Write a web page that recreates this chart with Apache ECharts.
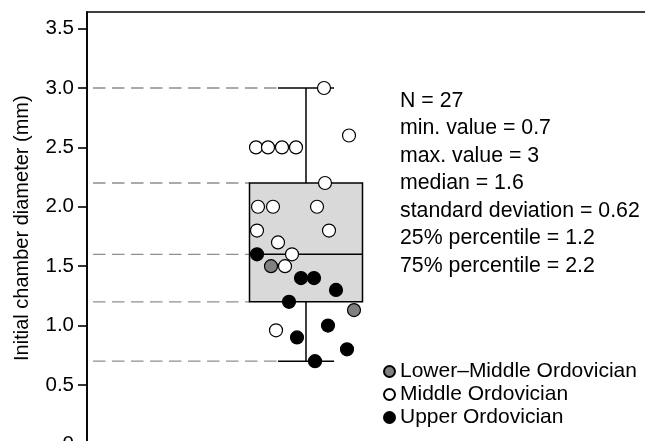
<!DOCTYPE html>
<html>
<head>
<meta charset="utf-8">
<script src="https://cdn.jsdelivr.net/npm/echarts@6/dist/echarts.min.js"></script>
<style>
html,body{margin:0;padding:0;background:#fff}
#chart{width:645px;height:441px}
</style>
</head>
<body>
<div id="chart"></div>
<script>
// y axis ticks
var yTicks = [0, 0.5, 1.0, 1.5, 2.0, 2.5, 3.0, 3.5]
// box: min, q1, median, q3, max
var boxStats = [0.7, 1.2, 1.6, 2.2, 3.0]
// points: [jitter, diameter]
var lowerMiddle = [[-0.35, 1.5], [0.48, 1.13]]
var middle = [
    [0.18, 3.0], [0.43, 2.6],
    [-0.50, 2.5], [-0.38, 2.5], [-0.24, 2.5], [-0.10, 2.5],
    [0.19, 2.2],
    [-0.48, 2.0], [-0.33, 2.0], [0.11, 2.0],
    [-0.49, 1.8], [0.23, 1.8],
    [-0.28, 1.7], [-0.14, 1.6], [-0.21, 1.5], [-0.30, 0.96]
]
var upper = [
    [-0.49, 1.6], [-0.05, 1.4], [0.08, 1.4], [0.30, 1.3], [-0.17, 1.2],
    [0.22, 1.0], [-0.09, 0.9], [0.41, 0.8], [0.09, 0.7]
]
var statLines = [
    'N = 27',
    'min. value = 0.7',
    'max. value = 3',
    'median = 1.6',
    'standard deviation = 0.62',
    '25% percentile = 1.2',
    '75% percentile = 2.2'
]
var seriesNames = ['Lower–Middle Ordovician', 'Middle Ordovician', 'Upper Ordovician']

var font = '"Liberation Sans", Arial, sans-serif'
var boxHalf = 0.565, capHalf = 0.28, dashStart = -2.13

var myChart = echarts.init(document.getElementById('chart'))

function dots(name, data, fill) {
    return {
        name: name,
        type: 'scatter',
        data: data,
        symbolSize: 13,
        z: 5,
        itemStyle: {color: fill, borderColor: '#000', borderWidth: 1.2, opacity: 1},
        emphasis: {disabled: true}
    }
}

var option = {
    animation: false,
    textStyle: {fontFamily: font},
    title: {
        text: statLines.join('\n'),
        left: 400,
        top: 87,
        padding: 0,
        textStyle: {fontSize: 21.3, fontWeight: 'normal', lineHeight: 27.5, color: '#000', fontFamily: font}
    },
    legend: {
        orient: 'vertical',
        left: 383,
        top: 361,
        padding: 0,
        itemGap: 2,
        itemWidth: 11,
        itemHeight: 11,
        icon: 'circle',
        data: seriesNames,
        textStyle: {fontSize: 21, color: '#000', fontFamily: font}
    },
    grid: {
        left: 87,
        top: 12,
        width: 700,
        height: 432.3,
        outerBoundsMode: 'none',
        containLabel: false,
        show: true,
        borderColor: '#000',
        borderWidth: 1.6
    },
    xAxis: {
        type: 'value',
        min: -2.19,
        max: 4.81,
        show: false
    },
    yAxis: {
        type: 'value',
        min: 0,
        max: 3.64,
        name: 'Initial chamber diameter (mm)',
        nameLocation: 'middle',
        nameGap: 55,
        nameTextStyle: {fontSize: 20, color: '#000', fontFamily: font},
        axisLine: {show: true, onZero: false, lineStyle: {color: '#000', width: 1.6}},
        axisTick: {show: true, length: 9, customValues: yTicks, lineStyle: {color: '#000', width: 1.6}},
        axisLabel: {
            customValues: yTicks,
            margin: 13,
            fontSize: 20.5,
            color: '#000',
            fontFamily: font,
            formatter: function (v) { return v === 0 ? '0' : v.toFixed(1) }
        },
        splitLine: {show: false}
    },
    series: [
        {
            type: 'custom',
            silent: true,
            z: 1,
            data: [[0].concat(boxStats)],
            encode: {x: 0, y: [1, 2, 3, 4, 5]},
            renderItem: function (params, api) {
                var x = api.value(0)
                var lo = api.value(1), q1 = api.value(2), med = api.value(3), q3 = api.value(4), hi = api.value(5)
                var c = function (dx, v) { return api.coord([x + dx, v]) }
                var dash = {stroke: '#8f8f8f', lineWidth: 1.3, lineDash: [12.5, 6.5], fill: null}
                var solid = {stroke: '#000', lineWidth: 1.5, fill: null}
                function line(p1, p2, style) {
                    return {type: 'line', shape: {x1: p1[0], y1: p1[1], x2: p2[0], y2: p2[1]}, style: style}
                }
                var tl = c(-boxHalf, q3), br = c(boxHalf, q1)
                return {
                    type: 'group',
                    children: [
                        line(c(dashStart, hi), c(-capHalf, hi), dash),
                        line(c(dashStart, q3), c(-boxHalf, q3), dash),
                        line(c(dashStart, med), c(-boxHalf, med), dash),
                        line(c(dashStart, q1), c(-boxHalf, q1), dash),
                        line(c(dashStart, lo), c(-capHalf, lo), dash),
                        line(c(0, hi), c(0, q3), solid),
                        line(c(0, q1), c(0, lo), solid),
                        line(c(-capHalf, hi), c(capHalf, hi), solid),
                        line(c(-capHalf, lo), c(capHalf, lo), solid),
                        {
                            type: 'rect',
                            shape: {x: tl[0], y: tl[1], width: br[0] - tl[0], height: br[1] - tl[1]},
                            style: {fill: '#d9d9d9', stroke: '#000', lineWidth: 1.5}
                        },
                        line(c(-boxHalf, med), c(boxHalf, med), solid)
                    ]
                }
            }
        },
        dots(seriesNames[0], lowerMiddle, '#808080'),
        dots(seriesNames[1], middle, '#ffffff'),
        dots(seriesNames[2], upper, '#000000')
    ]
}
myChart.setOption(option)
</script>
</body>
</html>
